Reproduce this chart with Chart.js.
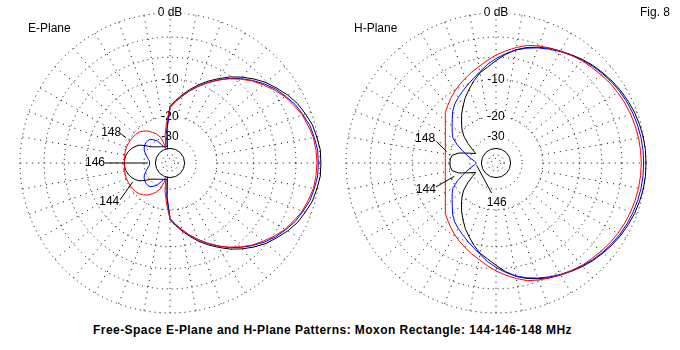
<!DOCTYPE html>
<html>
<head>
<meta charset="utf-8">
<title>Moxon Rectangle patterns</title>
<script src="https://cdn.jsdelivr.net/npm/chart.js@4.4.0/dist/chart.umd.min.js"></script>
<style>
  html, body { margin: 0; padding: 0; background: #fff; }
  body { width: 680px; height: 350px; position: relative; overflow: hidden;
         font-family: "Liberation Sans", Arial, sans-serif; color: #000; }
  .plot { position: absolute; width: 316px; height: 316px; top: 5px; }
  #ePlot { left: 12px; }
  #hPlot { left: 338px; }
  .txt { position: absolute; font-size: 12px; line-height: 14px; white-space: nowrap; }
  #title { left: 0; width: 665px; top: 323px; text-align: center; font-weight: bold; letter-spacing: 0.45px; }
</style>
</head>
<body>
<div class="plot" id="ePlot"><canvas id="eChart"></canvas></div>
<div class="plot" id="hPlot"><canvas id="hChart"></canvas></div>
<div class="txt" style="left:28px; top:21px;">E-Plane</div>
<div class="txt" style="left:354px; top:21px;">H-Plane</div>
<div class="txt" style="left:640px; top:5px;">Fig. 8</div>
<div class="txt" id="title">Free-Space E-Plane and H-Plane Patterns: Moxon Rectangle: 144-146-148 MHz</div>

<script>
// Azimuth of each reading, degrees from the forward direction (right).
const angles = [0, 5, 10, 15, 20, 25, 30, 35, 40, 45, 50, 55, 60, 65, 70, 75, 80, 85, 90,
  95, 100, 105, 110, 115, 120, 125, 130, 135, 140, 145, 150, 155, 160, 165, 170, 175, 180];

// Relative gain in dB
const ePlane144 = [0.1, 0.1, -0.1, -0.3, -0.7, -1.1, -1.7, -2.4, -3.1, -4.0, -5.0, -6.1, -7.4, -8.7, -10.1, -11.7, -13.3, -15.0, -16.7,
  -25.0, -37.5, -37.5, -37.0, -36.4, -35.7, -34.8, -33.6, -32.3, -30.6, -27.4, -24.6, -23.2, -22.1, -21.3, -20.8, -20.5, -20.4];
const ePlane146 = [-0.2, -0.2, -0.4, -0.6, -1.0, -1.4, -2.0, -2.6, -3.4, -4.3, -5.3, -6.4, -7.7, -9.0, -10.5, -12.0, -13.7, -15.3, -17.1,
  -25.7, -40.5, -39.3, -37.1, -34.3, -30.5, -28.6, -27.1, -26.8, -26.8, -27.1, -27.7, -28.6, -30.2, -31.6, -33.0, -34.1, -34.3];
const ePlane148 = [-0.35, -0.4, -0.5, -0.8, -1.1, -1.6, -2.1, -2.8, -3.6, -4.4, -5.4, -6.5, -7.7, -9.1, -10.5, -12.0, -13.6, -15.3, -16.9,
  -22.5, -28.6, -38.0, -29.2, -26.5, -24.7, -23.1, -22.0, -21.2, -20.8, -20.6, -20.4, -20.3, -20.2, -20.2, -20.3, -20.4, -20.4];

const hPlane144 = [0, 0, -0.05, -0.16, -0.29, -0.47, -0.67, -0.92, -1.2, -1.48, -1.81, -2.19, -2.55, -2.91, -3.39, -3.89, -4.55, -5.49, -6.56,
  -7.61, -8.44, -9.72, -11.1, -12.48, -14.12, -15.78, -17.62, -19.5, -21.82, -25.24, -29.2, -32.71, -28.33, -23.33, -20.89, -20.32, -20.24];
const hPlane146 = [-0.27, -0.28, -0.32, -0.4, -0.51, -0.65, -0.83, -1.05, -1.3, -1.58, -1.9, -2.25, -2.63, -3.04, -3.48, -3.99, -4.6, -5.36, -6.22,
  -7.16, -8.25, -9.26, -10.13, -10.99, -11.78, -12.6, -13.73, -15.21, -16.52, -17.69, -18.97, -21.61, -24.74, -27.68, -30.52, -33.26, -34.96];
const hPlane148 = [-0.55, -0.57, -0.61, -0.7, -0.8, -0.93, -1.1, -1.28, -1.53, -1.77, -1.98, -2.28, -2.57, -2.87, -3.2, -3.57, -4.22, -4.92, -5.65,
  -6.47, -7.32, -8.01, -8.75, -9.46, -10.22, -11.03, -11.89, -12.68, -14.04, -15.21, -16.16, -16.92, -17.56, -18.01, -18.35, -18.55, -18.62];

// Grid rings and their labels
const ringDb = [-60, -50, -40, -30, -20, -10, -6, -3, 0];
const ringLabels = ['', '', '', '-30', '-20', '-10', '', '', '0 dB'];

const seriesColors = { 148: '#ff0000', 146: '#0000ff', 144: '#000000' };

// ARRL log-periodic scale: radius shrinks to 0.89 for every 2 dB
const rho = db => Math.pow(0.89, -db / 2);

// radar spokes start at the top and run clockwise, one every 5 degrees
const spokeCount = 72;
function toRadar(half) {
  const out = [];
  for (let i = 0; i < spokeCount; i++) {
    let a = ((90 - i * 5) % 360 + 360) % 360;
    if (a > 180) a = 360 - a;
    out.push(rho(half[angles.indexOf(a)]));
  }
  return out;
}

/* --- dotted spokes every 10 degrees, from -20 dB outwards --- */
const spokes = {
  id: 'spokes',
  beforeDatasetsDraw(chart) {
    const s = chart.scales.r, ctx = chart.ctx;
    const r0 = s.getDistanceFromCenterForValue(rho(-20));
    const r1 = s.drawingArea;
    ctx.save();
    ctx.strokeStyle = '#000';
    ctx.lineWidth = 1;
    ctx.setLineDash([1, 5]);
    for (let a = 0; a < 360; a += 10) {
      const t = a * Math.PI / 180;
      ctx.beginPath();
      ctx.moveTo(s.xCenter + r0 * Math.cos(t), s.yCenter - r0 * Math.sin(t));
      ctx.lineTo(s.xCenter + r1 * Math.cos(t), s.yCenter - r1 * Math.sin(t));
      ctx.stroke();
    }
    ctx.restore();
  }
};

/* --- frequency call-outs; positions in units of the outer ring radius --- */
const notes = {
  id: 'notes',
  afterDatasetsDraw(chart, args, opts) {
    const s = chart.scales.r, ctx = chart.ctx;
    const R = s.drawingArea;
    const px = p => ({ x: s.xCenter + p[0] * R, y: s.yCenter - p[1] * R });
    ctx.save();
    ctx.strokeStyle = '#000';
    ctx.fillStyle = '#000';
    ctx.lineWidth = 1;
    ctx.font = '12px "Liberation Sans", Arial, sans-serif';
    ctx.textAlign = 'center';
    ctx.textBaseline = 'middle';
    (opts.items || []).forEach(n => {
      const a = px(n.from), b = px(n.to), t = px(n.at);
      ctx.beginPath();
      ctx.moveTo(a.x, a.y);
      ctx.lineTo(b.x, b.y);
      ctx.stroke();
      ctx.fillText(n.text, t.x, t.y);
    });
    ctx.restore();
  }
};

function makeChart(id, series, callouts) {
  return new Chart(document.getElementById(id), {
    type: 'radar',
    data: {
      labels: Array.from({ length: spokeCount }, (_, i) => String(i * 5)),
      datasets: series.map(s => ({
        label: s.freq + ' MHz',
        data: toRadar(s.values),
        borderColor: seriesColors[s.freq],
        borderWidth: 1,
        pointRadius: 0,
        fill: false,
        tension: 0
      }))
    },
    options: {
      responsive: true,
      maintainAspectRatio: false,
      animation: false,
      events: [],
      plugins: {
        legend: { display: false },
        tooltip: { enabled: false },
        notes: { items: callouts }
      },
      scales: {
        r: {
          min: 0,
          max: 1,
          afterBuildTicks: sc => {
            sc.ticks = [{ value: 0 }].concat(ringDb.map(d => ({ value: rho(d) })));
          },
          ticks: {
            callback: (v, i) => (i === 0 ? '' : ringLabels[i - 1]),
            color: '#000',
            font: { family: '"Liberation Sans", Arial, sans-serif', size: 12 },
            backdropColor: '#fff',
            showLabelBackdrop: c => !!(c.tick && c.tick.label)
          },
          grid: { circular: true, color: '#000', lineWidth: 1 },
          border: { dash: c => (ringDb[c.index - 1] === -40 ? [] : [1, 4]) },
          angleLines: { display: false },
          pointLabels: { display: false }
        }
      }
    },
    plugins: [spokes, notes]
  });
}

makeChart('eChart', [
  { freq: 148, values: ePlane148 },
  { freq: 146, values: ePlane146 },
  { freq: 144, values: ePlane144 }
], [
  { text: '148', at: [-0.392, 0.203], from: [-0.326, 0.194], to: [-0.294, 0.169] },
  { text: '146', at: [-0.50, 0.0], from: [-0.432, 0.0], to: [-0.147, 0.0] },
  { text: '144', at: [-0.405, -0.257], from: [-0.333, -0.245], to: [-0.248, -0.126] }
]);

makeChart('hChart', [
  { freq: 148, values: hPlane148 },
  { freq: 146, values: hPlane146 },
  { freq: 144, values: hPlane144 }
], [
  { text: '148', at: [-0.473, 0.161], from: [-0.397, 0.144], to: [-0.329, 0.076] },
  { text: '144', at: [-0.468, -0.177], from: [-0.401, -0.160], to: [-0.277, -0.088] },
  { text: '146', at: [0.005, -0.267], from: [-0.029, -0.201], to: [-0.130, -0.014] }
]);
</script>
</body>
</html>
